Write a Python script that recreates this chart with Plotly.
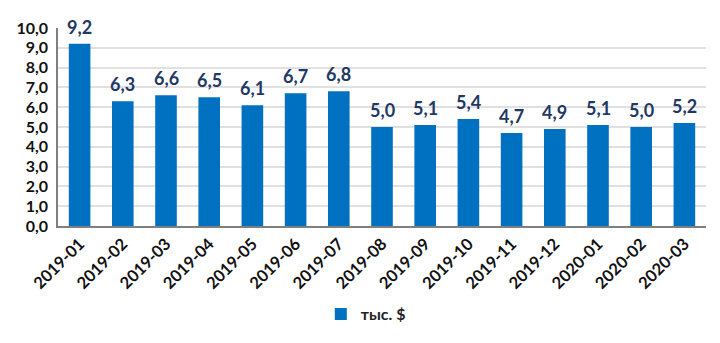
import plotly.graph_objects as go

months = ["2019-01", "2019-02", "2019-03", "2019-04", "2019-05", "2019-06", "2019-07",
          "2019-08", "2019-09", "2019-10", "2019-11", "2019-12", "2020-01", "2020-02", "2020-03"]
values = [9.2, 6.3, 6.6, 6.5, 6.1, 6.7, 6.8, 5.0, 5.1, 5.4, 4.7, 4.9, 5.1, 5.0, 5.2]
y_ticks = [0, 1, 2, 3, 4, 5, 6, 7, 8, 9, 10]
y_tick_labels = [f"{v:.1f}".replace(".", ",") for v in y_ticks]
series_name = "тыс. $"


def fmt(v):
    return f"{v:.1f}".replace(".", ",")


fig = go.Figure()
fig.add_trace(go.Bar(
    x=months,
    y=values,
    name=series_name,
    marker=dict(color="#0070C0", line=dict(width=0)),
))

# value labels sitting a little above each bar
for m, v in zip(months, values):
    fig.add_annotation(
        x=m, y=v, text=fmt(v), showarrow=False,
        yanchor="bottom", yshift=4,
        font=dict(family="Lato", size=18, color="#1F3864", weight="bold"),
    )

fig.update_layout(
    width=720, height=343,
    margin=dict(l=58, r=14, t=28, b=109),
    paper_bgcolor="white",
    plot_bgcolor="white",
    bargap=0.5,
    showlegend=True,
    legend=dict(orientation="h", x=0.475, xanchor="center", y=-0.445, yanchor="middle",
                itemwidth=30,
                font=dict(family="Lato", size=16, color="#222222", weight="bold")),
    font=dict(family="Lato"),
)
fig.update_xaxes(
    type="category",
    tickangle=-45,
    tickfont=dict(family="Lato", size=16.5, color="#111111", weight="bold"),
    showline=True, linecolor="#7f7f7f", linewidth=1.5,
    ticks="",
    showgrid=False,
    automargin=False,
)
fig.update_yaxes(
    range=[0, 10],
    tickvals=y_ticks,
    ticktext=y_tick_labels,
    tickfont=dict(family="Lato", size=16, color="#111111", weight="bold"),
    showline=True, linecolor="#7f7f7f", linewidth=1.5,
    showgrid=True, gridcolor="#e0e0e0", gridwidth=1.5,
    zeroline=False,
    ticks="",
    ticklabelstandoff=5,
    automargin=False,
)

fig.write_html("out.html")
